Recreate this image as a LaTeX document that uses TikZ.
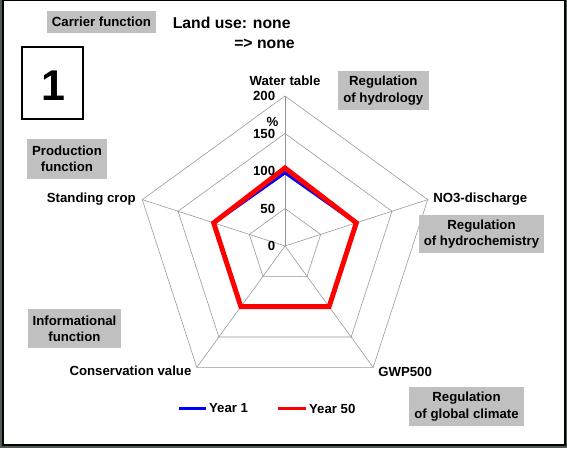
\documentclass[tikz,border=0pt]{standalone}
\usepackage{fontspec}
\setmainfont{Liberation Sans}
\usepackage{xcolor}
\usepackage{tikz}
\usetikzlibrary{calc}

\definecolor{boxgray}{RGB}{192,192,192}
\definecolor{gridgray}{RGB}{150,150,150}
\definecolor{framedark}{RGB}{80,92,82}

\begin{document}
\begin{tikzpicture}[
    lbl/.style={font=\fontsize{9.4}{11.7}\selectfont\bfseries, inner sep=0},
    func/.style={lbl, fill=boxgray, align=center},
    web/.style={draw=gridgray, line width=0.4pt},
    yearone/.style={draw=blue, line width=2.5pt, line join=miter},
    yearfifty/.style={draw=red, line width=3.5pt, line join=miter},
]
    \useasboundingbox (-7.125,-5.05) rectangle (7.05,6.15);

    % Frame
    \fill[framedark] (-7.125,-5.05) rectangle (7.05,6.15);
    \draw[fill=white, line width=0.9pt] (-7.05,-4.975) rectangle (7.0,6.13);

    % Header
    \node[func, minimum width=2.725cm, minimum height=0.55cm] (carrier) at (-4.5875,5.6) {Carrier function};
    \node[font=\fontsize{11.2}{13}\selectfont\bfseries, inner sep=0, anchor=west] (landuse) at (-2.8125,5.575) {Land use: none};
    \node[font=\fontsize{11.2}{13}\selectfont\bfseries, inner sep=0, anchor=west] (landnext) at (-1.275,5.05) {=> none};
    \node[draw, line width=0.9pt, minimum width=1.525cm, minimum height=1.8cm] (panel) at (-5.8125,4.075) {};
    \node[font=\fontsize{30.6}{31}\selectfont\bfseries, inner sep=0] (panelno) at (-5.8,3.995) {1};

    % Web (one ring per 50 %)
    \begin{scope}[x=0.01875cm, y=0.01875cm]
        \foreach \r in {50,100,150,200}
            \draw[web] (90:\r) -- (18:\r) -- (-54:\r) -- (-126:\r) -- (162:\r) -- cycle;
        \foreach \a in {90,18,-54,-126,162}
            \draw[web] (0,0) -- (\a:200);

        % Year 1 and Year 50
        \draw[yearone] (90:98) -- (18:100) -- (-54:100) -- (-126:100) -- (162:100) -- cycle;
        \draw[yearfifty] (90:104) -- (18:100) -- (-54:100) -- (-126:100) -- (162:100) -- cycle;
    \end{scope}

    % Scale
    \foreach \v in {0,50,100,150,200}
        \node[lbl, anchor=east] (s\v) at (-0.24,{\v*0.01875}) {\v};
    \node[lbl] (pct) at (-0.31,3.11) {\%};

    % Axis labels
    \node[lbl] (watertable) at (0,4.13) {Water table};
    \node[lbl, anchor=west] (nodischarge) at (3.7,1.175) {NO3-discharge};
    \node[lbl, anchor=west] (gwp) at (2.325,-3.14) {GWP500};
    \node[lbl, anchor=east] (conservation) at (-2.3325,-3.1175) {Conservation value};
    \node[lbl, anchor=east] (standing) at (-3.725,1.175) {Standing crop};

    % Functions
    \node[func, minimum width=2.265cm, minimum height=0.98cm] (hydrology) at (2.4575,3.89) {Regulation\\of hydrology};
    \node[func, minimum width=3.125cm, minimum height=0.95cm] (hydrochem) at (4.9125,0.3) {Regulation\\of hydrochemistry};
    \node[func, minimum width=2.875cm, minimum height=0.975cm] (climate) at (4.5375,-4.0125) {Regulation\\of global climate};
    \node[func, minimum width=2.0cm, minimum height=1.0cm] (production) at (-5.45,2.175) {Production\\function};
    \node[func, minimum width=2.325cm, minimum height=0.975cm] (informational) at (-5.2625,-2.0625) {Informational\\function};

    % Legend
    \node[lbl, anchor=west, inner sep=2pt] (yone) at (-1.975,-4.0625) {Year 1};
    \node[lbl, anchor=west, inner sep=2pt] (yfifty) at (0.525,-4.0625) {Year 50};
    \coordinate (yonetip) at (-2.65,-4.0625);
    \coordinate (yfiftytip) at (-0.175,-4.0625);
    \draw[blue, line width=2.4pt] (yonetip) -- (yone.west);
    \draw[red, line width=2.4pt] (yfiftytip) -- (yfifty.west);
\end{tikzpicture}
\end{document}
